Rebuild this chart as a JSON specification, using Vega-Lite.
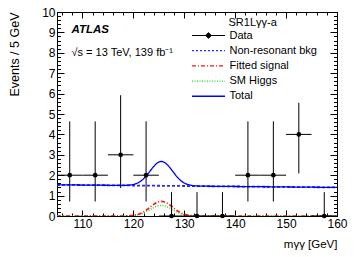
{
  "$schema": "https://vega.github.io/schema/vega-lite/v6.json",
  "width": 280,
  "height": 204,
  "autosize": {"type": "none"},
  "padding": {"left": 57, "top": 12, "right": 20, "bottom": 41},
  "background": "white",
  "title": {
    "text": "ATLAS",
    "subtitle": "√s = 13 TeV, 139 fb⁻¹",
    "anchor": "start",
    "frame": "group",
    "orient": "top",
    "offset": -52,
    "dx": 14.5,
    "font": "Liberation Sans",
    "fontSize": 11.5,
    "fontStyle": "italic",
    "fontWeight": "bold",
    "color": "black",
    "subtitleFont": "Liberation Sans",
    "subtitleFontSize": 11,
    "subtitleColor": "black",
    "subtitlePadding": 11.5
  },
  "datasets": {
    "curves": [
      {"x": 105, "bkg": 1.530, "sig": 0, "sm": 0, "tot": 1.530},
      {"x": 110, "bkg": 1.518, "sig": 0, "sm": 0, "tot": 1.518},
      {"x": 115, "bkg": 1.506, "sig": 0, "sm": 0, "tot": 1.506},
      {"x": 117.5, "bkg": 1.500, "sig": 0.001, "sm": 0.001, "tot": 1.502},
      {"x": 118.5, "bkg": 1.498, "sig": 0.005, "sm": 0.003, "tot": 1.506},
      {"x": 119.5, "bkg": 1.496, "sig": 0.017, "sm": 0.012, "tot": 1.525},
      {"x": 120.5, "bkg": 1.493, "sig": 0.055, "sm": 0.040, "tot": 1.583},
      {"x": 121, "bkg": 1.492, "sig": 0.089, "sm": 0.064, "tot": 1.638},
      {"x": 121.5, "bkg": 1.491, "sig": 0.138, "sm": 0.100, "tot": 1.719},
      {"x": 122, "bkg": 1.490, "sig": 0.203, "sm": 0.147, "tot": 1.826},
      {"x": 122.5, "bkg": 1.489, "sig": 0.284, "sm": 0.205, "tot": 1.959},
      {"x": 123, "bkg": 1.488, "sig": 0.377, "sm": 0.272, "tot": 2.112},
      {"x": 123.5, "bkg": 1.486, "sig": 0.477, "sm": 0.344, "tot": 2.274},
      {"x": 124, "bkg": 1.485, "sig": 0.571, "sm": 0.412, "tot": 2.429},
      {"x": 124.5, "bkg": 1.484, "sig": 0.649, "sm": 0.469, "tot": 2.557},
      {"x": 125, "bkg": 1.483, "sig": 0.702, "sm": 0.507, "tot": 2.643},
      {"x": 125.5, "bkg": 1.482, "sig": 0.720, "sm": 0.520, "tot": 2.672},
      {"x": 126, "bkg": 1.480, "sig": 0.702, "sm": 0.507, "tot": 2.640},
      {"x": 126.5, "bkg": 1.479, "sig": 0.649, "sm": 0.469, "tot": 2.552},
      {"x": 127, "bkg": 1.478, "sig": 0.571, "sm": 0.412, "tot": 2.422},
      {"x": 127.5, "bkg": 1.477, "sig": 0.477, "sm": 0.344, "tot": 2.265},
      {"x": 128, "bkg": 1.476, "sig": 0.377, "sm": 0.272, "tot": 2.100},
      {"x": 128.5, "bkg": 1.475, "sig": 0.284, "sm": 0.205, "tot": 1.945},
      {"x": 129, "bkg": 1.473, "sig": 0.203, "sm": 0.147, "tot": 1.809},
      {"x": 129.5, "bkg": 1.472, "sig": 0.138, "sm": 0.100, "tot": 1.700},
      {"x": 130, "bkg": 1.471, "sig": 0.089, "sm": 0.064, "tot": 1.617},
      {"x": 130.5, "bkg": 1.470, "sig": 0.055, "sm": 0.040, "tot": 1.560},
      {"x": 131.5, "bkg": 1.467, "sig": 0.017, "sm": 0.012, "tot": 1.496},
      {"x": 132.5, "bkg": 1.465, "sig": 0.005, "sm": 0.003, "tot": 1.473},
      {"x": 133.5, "bkg": 1.463, "sig": 0.001, "sm": 0.001, "tot": 1.465},
      {"x": 135, "bkg": 1.459, "sig": 0, "sm": 0, "tot": 1.459},
      {"x": 140, "bkg": 1.447, "sig": 0, "sm": 0, "tot": 1.447},
      {"x": 145, "bkg": 1.436, "sig": 0, "sm": 0, "tot": 1.436},
      {"x": 150, "bkg": 1.424, "sig": 0, "sm": 0, "tot": 1.424},
      {"x": 155, "bkg": 1.412, "sig": 0, "sm": 0, "tot": 1.412},
      {"x": 160, "bkg": 1.400, "sig": 0, "sm": 0, "tot": 1.400}
    ],
    "points": [
      {"x": 107.5, "y": 2, "lo": 0.71, "hi": 4.64, "xl": 105, "xh": 110},
      {"x": 112.5, "y": 2, "lo": 0.71, "hi": 4.64, "xl": 110, "xh": 115},
      {"x": 117.5, "y": 3, "lo": 1.37, "hi": 5.92, "xl": 115, "xh": 120},
      {"x": 122.5, "y": 2, "lo": 0.71, "hi": 4.64, "xl": 120, "xh": 125},
      {"x": 127.5, "y": 0, "lo": 0, "hi": 1.17, "xl": 125, "xh": 130},
      {"x": 132.5, "y": 0, "lo": 0, "hi": 1.17, "xl": 130, "xh": 135},
      {"x": 137.5, "y": 0, "lo": 0, "hi": 1.17, "xl": 135, "xh": 140},
      {"x": 142.5, "y": 2, "lo": 0.71, "hi": 4.64, "xl": 140, "xh": 145},
      {"x": 147.5, "y": 2, "lo": 0.71, "hi": 4.64, "xl": 145, "xh": 150},
      {"x": 152.5, "y": 4, "lo": 2.09, "hi": 5.55, "xl": 150, "xh": 155},
      {"x": 157.5, "y": 0, "lo": 0, "hi": 1.17, "xl": 155, "xh": 160}
    ]
  },
  "resolve": {"axis": {"x": "independent", "y": "independent"}},
  "layer": [
    {
      "data": {"name": "curves"},
      "transform": [{"fold": ["sm", "sig", "bkg", "tot"], "as": ["series", "val"]}],
      "mark": {"type": "line", "interpolate": "monotone", "clip": true},
      "encoding": {
        "x": {
          "field": "x", "type": "quantitative",
          "scale": {"domain": [105, 160], "nice": false, "zero": false},
          "axis": {
            "orient": "bottom",
            "title": "mγγ [GeV]",
            "titleFontSize": 11.5,
            "titleAnchor": "end",
            "titleAlign": "right",
            "titleBaseline": "alphabetic",
            "titleY": 31,
            "values": [110, 120, 130, 140, 150, 160],
            "format": "d",
            "labelFontSize": 12,
            "labelOverlap": false,
            "labelFlush": false,
            "tickSize": -6,
            "labelPadding": 8
          }
        },
        "y": {
          "field": "val", "type": "quantitative",
          "scale": {"domain": [0, 10], "nice": false},
          "axis": {
            "orient": "left",
            "title": "Events / 5 GeV",
            "titleFontSize": 12.5,
            "titleAngle": 270,
            "titleAlign": "right",
            "titleBaseline": "middle",
            "titleX": -43,
            "titleY": 0,
            "values": [0, 1, 2, 3, 4, 5, 6, 7, 8, 9, 10],
            "format": "d",
            "labelFontSize": 12,
            "labelOverlap": false,
            "labelFlush": false,
            "tickSize": -7,
            "labelPadding": 9
          }
        },
        "color": {
          "field": "series", "type": "nominal",
          "scale": {"domain": ["Data", "bkg", "sig", "sm", "tot"], "range": ["black", "#2828ff", "#ff1010", "#22dd22", "#0000ff"]},
          "legend": {
            "orient": "none",
            "legendX": 146,
            "legendY": 5,
            "title": "SR1Lγγ-a",
            "titleFont": "Liberation Sans",
            "titleFontSize": 11,
            "titleFontWeight": "normal",
            "titleColor": "black",
            "titlePadding": 2,
            "labelFont": "Liberation Sans",
            "labelFontSize": 11,
            "labelColor": "black",
            "labelOffset": 15.5,
            "rowPadding": 3.2,
            "padding": 0,
            "symbolSize": 100,
            "symbolOffset": 0,
            "labelExpr": "datum.value === 'bkg' ? 'Non-resonant bkg' : datum.value === 'sig' ? 'Fitted signal' : datum.value === 'sm' ? 'SM Higgs' : datum.value === 'tot' ? 'Total' : 'Data'",
            "encode": {
              "symbols": {
                "update": {
                  "shape": {"signal": "datum.value === 'Data' ? 'M-3.3,0H3.3M-0.45,0A0.45,0.45,0,1,1,0.45,0A0.45,0.45,0,1,1,-0.45,0ZM0,-0.6V0.6' : 'M-3.3,0H3.3'"},
                  "fill": {"signal": "datum.value === 'Data' ? 'black' : 'transparent'"},
                  "strokeDash": {"signal": "datum.value === 'bkg' ? [2,2] : datum.value === 'sig' ? [4,2,1,2] : datum.value === 'sm' ? [1,1.5] : [1,0]"},
                  "strokeWidth": {"signal": "datum.value === 'Data' ? 1 : datum.value === 'tot' ? 1.5 : 1.3"},
                  "opacity": {"value": 1}
                }
              },
              "title": {"update": {"dx": {"value": 25.5}}}
            }
          }
        },
        "strokeDash": {
          "field": "series", "type": "nominal",
          "scale": {"domain": ["bkg", "sig", "sm", "tot"], "range": [[3, 2], [4, 2, 1, 2], [1, 1.5], [1, 0]]},
          "legend": null
        },
        "strokeWidth": {
          "field": "series", "type": "ordinal",
          "scale": {"domain": ["bkg", "sig", "sm", "tot"], "range": [1.8, 1.3, 1.3, 1.8]},
          "legend": null
        },
        "order": {"field": "series", "sort": "ascending"}
      }
    },
    {
      "data": {"name": "points"},
      "mark": {"type": "rule", "color": "black", "strokeWidth": 1},
      "encoding": {
        "x": {
          "field": "xl", "type": "quantitative",
          "axis": {"orient": "bottom", "title": null, "labels": false, "tickSize": -3,
            "values": [106,108,112,114,116,118,122,124,126,128,132,134,136,138,142,144,146,148,152,154,156,158]}
        },
        "x2": {"field": "xh"},
        "y": {
          "field": "y", "type": "quantitative",
          "axis": {"orient": "left", "title": null, "labels": false, "tickSize": -3.5,
            "values": [0.2,0.4,0.6,0.8,1.2,1.4,1.6,1.8,2.2,2.4,2.6,2.8,3.2,3.4,3.6,3.8,4.2,4.4,4.6,4.8,5.2,5.4,5.6,5.8,6.2,6.4,6.6,6.8,7.2,7.4,7.6,7.8,8.2,8.4,8.6,8.8,9.2,9.4,9.6,9.8]}
        }
      }
    },
    {
      "data": {"name": "points"},
      "mark": {"type": "rule", "color": "black", "strokeWidth": 1},
      "encoding": {
        "x": {
          "field": "x", "type": "quantitative",
          "axis": {"orient": "top", "title": null, "labels": false, "tickSize": -6,
            "values": [110, 120, 130, 140, 150, 160]}
        },
        "y": {
          "field": "lo", "type": "quantitative",
          "axis": {"orient": "right", "title": null, "labels": false, "tickSize": -7,
            "values": [0, 1, 2, 3, 4, 5, 6, 7, 8, 9, 10]}
        },
        "y2": {"field": "hi"}
      }
    },
    {
      "data": {"name": "points"},
      "mark": {"type": "point", "filled": true, "color": "black", "size": 22, "opacity": 1, "clip": false},
      "encoding": {
        "x": {
          "field": "x", "type": "quantitative",
          "axis": {"orient": "top", "title": null, "labels": false, "tickSize": -3,
            "values": [106,108,112,114,116,118,122,124,126,128,132,134,136,138,142,144,146,148,152,154,156,158]}
        },
        "y": {
          "field": "y", "type": "quantitative",
          "axis": {"orient": "right", "title": null, "labels": false, "tickSize": -3.5,
            "values": [0.2,0.4,0.6,0.8,1.2,1.4,1.6,1.8,2.2,2.4,2.6,2.8,3.2,3.4,3.6,3.8,4.2,4.4,4.6,4.8,5.2,5.4,5.6,5.8,6.2,6.4,6.6,6.8,7.2,7.4,7.6,7.8,8.2,8.4,8.6,8.8,9.2,9.4,9.6,9.8]}
        }
      }
    }
  ],
  "config": {
    "font": "Liberation Sans",
    "view": {"stroke": "black", "strokeWidth": 1},
    "axis": {
      "domainColor": "black",
      "tickColor": "black",
      "labelColor": "black",
      "titleColor": "black",
      "labelFont": "Liberation Sans",
      "titleFont": "Liberation Sans",
      "labelFontSize": 11,
      "titleFontSize": 11,
      "titleFontWeight": "normal",
      "grid": false
    }
  }
}
